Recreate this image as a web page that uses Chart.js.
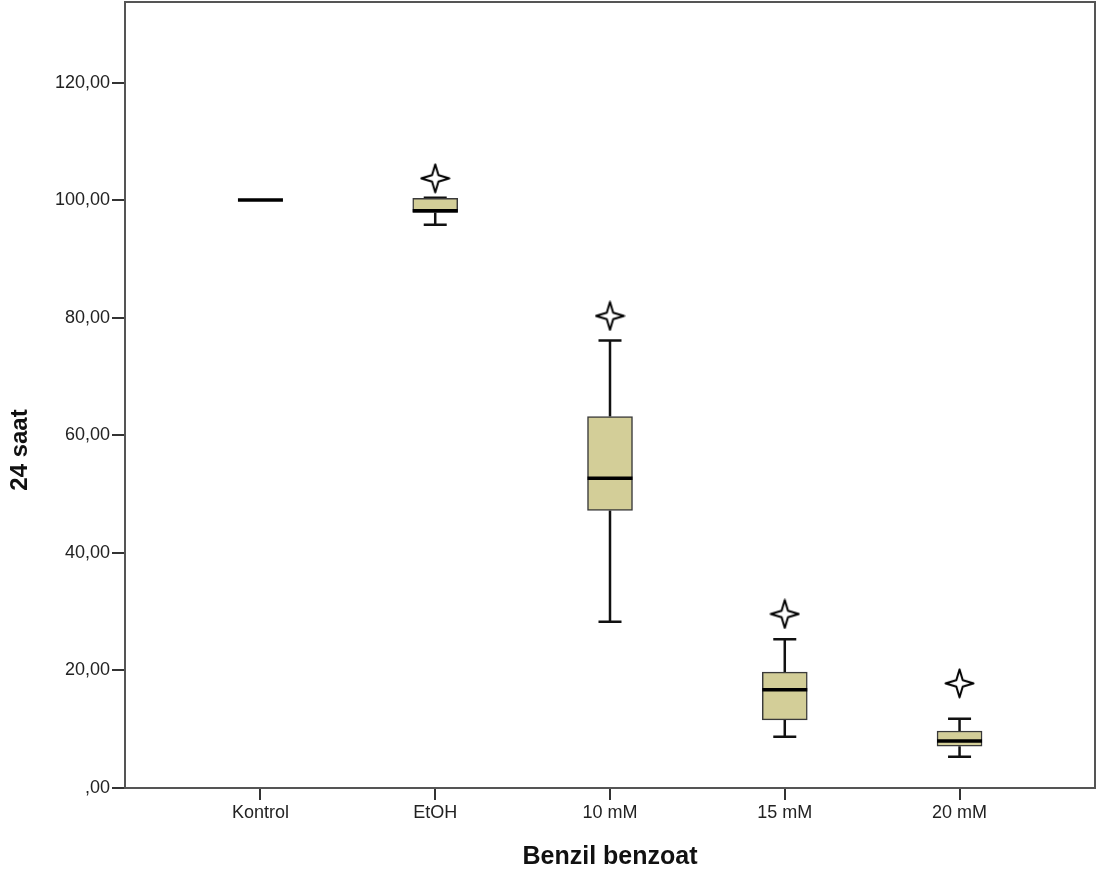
<!DOCTYPE html>
<html>
<head>
<meta charset="utf-8">
<script src="https://cdn.jsdelivr.net/npm/chart.js@4/dist/chart.umd.min.js"></script>
<style>
    html, body { margin: 0; padding: 0; background: #fff; }
    #wrap { width: 1097px; height: 877px; position: relative; }
</style>
</head>
<body>
<div id="wrap"><canvas id="boxChart"></canvas></div>
<script>
    "use strict";

    // Values
    const categories = ["Kontrol", "EtOH", "10 mM", "15 mM", "20 mM"];
    const whiskerLow = [100, 95.8, 28.3, 8.7, 5.3];
    const q1 = [100, 97.9, 47.2, 11.6, 7.1];
    const median = [100, 98.2, 52.7, 16.7, 8.0];
    const q3 = [100, 100.3, 63.2, 19.7, 9.7];
    const whiskerHigh = [100, 100.4, 76.1, 25.3, 11.8];
    const outliers = [null, 103.7, 80.3, 29.6, 17.8];
    const yTicks = [0, 20, 40, 60, 80, 100, 120];
    const yTitle = "24 saat";

    const FONT = "'Liberation Sans', Arial, sans-serif";
    const AXIS_COLOR = "#333";

    function makeStar(size) {
        const c = document.createElement("canvas");
        c.width = size;
        c.height = size;
        const ctx = c.getContext("2d");
        const m = size / 2;
        const r = m - 1.5;
        const k = 3.2;
        ctx.beginPath();
        ctx.moveTo(m, m - r);
        ctx.lineTo(m + k, m - k);
        ctx.lineTo(m + r, m);
        ctx.lineTo(m + k, m + k);
        ctx.lineTo(m, m + r);
        ctx.lineTo(m - k, m + k);
        ctx.lineTo(m - r, m);
        ctx.lineTo(m - k, m - k);
        ctx.closePath();
        ctx.fillStyle = "#fff";
        ctx.fill();
        ctx.lineWidth = 2;
        ctx.strokeStyle = "#000";
        ctx.lineJoin = "round";
        ctx.stroke();
        return c;
    }

    function noPad(scale) {
        scale.paddingTop = 0;
        scale.paddingBottom = 0;
        scale.paddingLeft = 0;
        scale.paddingRight = 0;
    }

    const boxPlugin = {
        id: "boxParts",
        beforeDatasetsDraw(chart) {
            const { ctx, scales: { x, y } } = chart;
            ctx.save();
            ctx.strokeStyle = "#111";
            ctx.lineWidth = 2.5;
            categories.forEach((_, i) => {
                if (whiskerHigh[i] === whiskerLow[i]) return;
                const px = x.getPixelForValue(i);
                const capHalf = 11.5;
                const lo = y.getPixelForValue(whiskerLow[i]);
                const hi = y.getPixelForValue(whiskerHigh[i]);
                ctx.beginPath();
                ctx.moveTo(px, lo);
                ctx.lineTo(px, y.getPixelForValue(q1[i]));
                ctx.moveTo(px, y.getPixelForValue(q3[i]));
                ctx.lineTo(px, hi);
                ctx.moveTo(px - capHalf, lo);
                ctx.lineTo(px + capHalf, lo);
                ctx.moveTo(px - capHalf, hi);
                ctx.lineTo(px + capHalf, hi);
                ctx.stroke();
            });
            ctx.restore();
        },
        afterDatasetsDraw(chart) {
            const { ctx, scales: { x, y } } = chart;
            ctx.save();
            ctx.strokeStyle = "#000";
            ctx.lineWidth = 3.5;
            median.forEach((v, i) => {
                const px = x.getPixelForValue(i);
                const py = y.getPixelForValue(v);
                ctx.beginPath();
                ctx.moveTo(px - 22.5, py);
                ctx.lineTo(px + 22.5, py);
                ctx.stroke();
            });
            ctx.restore();
        },
        afterDraw(chart) {
            const { ctx, chartArea: a } = chart;
            ctx.save();
            ctx.strokeStyle = "#555";
            ctx.lineWidth = 2;
            ctx.strokeRect(a.left, a.top, a.right - a.left, a.bottom - a.top);
            // y axis title, sits a bit below the middle like the SPSS output
            ctx.translate(20, a.top + (a.bottom - a.top) * 0.57);
            ctx.rotate(-Math.PI / 2);
            ctx.fillStyle = "#111";
            ctx.font = "bold 24px " + FONT;
            ctx.textAlign = "center";
            ctx.textBaseline = "middle";
            ctx.fillText(yTitle, 0, 0);
            ctx.restore();
        }
    };

    new Chart(document.getElementById("boxChart").getContext("2d"), {
        type: "bar",
        data: {
            datasets: [{
                type: "bar",
                data: categories.map((c, i) => ({ x: i, y: [q1[i], q3[i]] })),
                backgroundColor: "#d3ce98",
                borderColor: "#3a3a3a",
                borderWidth: 1.5,
                borderSkipped: false,
                barThickness: 45
            }, {
                type: "scatter",
                data: outliers.map((v, i) => (v === null ? null : { x: i, y: v })).filter(p => p),
                pointStyle: makeStar(31),
                pointRadius: 14,
                showLine: false
            }]
        },
        options: {
            responsive: true,
            maintainAspectRatio: false,
            animation: false,
            layout: { autoPadding: false, padding: { top: 2, right: 2, left: 0, bottom: 0 } },
            plugins: { legend: { display: false }, tooltip: { enabled: false } },
            scales: {
                x: {
                    type: "linear",
                    offset: false,
                    min: -0.775,
                    max: 4.775,
                    afterBuildTicks: scale => { scale.ticks = categories.map((c, i) => ({ value: i })); },
                    afterFit: scale => { scale.height = 89; noPad(scale); },
                    ticks: {
                        callback: value => categories[value],
                        color: "#222",
                        font: { family: FONT, size: 18 },
                        padding: 2,
                        maxRotation: 0,
                        autoSkip: false
                    },
                    grid: { display: true, offset: false, drawOnChartArea: false, drawTicks: true, tickLength: 12, color: AXIS_COLOR, lineWidth: 2 },
                    border: { display: true, color: AXIS_COLOR, width: 2 },
                    title: {
                        display: true,
                        text: "Benzil benzoat",
                        color: "#111",
                        font: { family: FONT, size: 25, weight: "bold" },
                        padding: { top: 0, bottom: 5 }
                    }
                },
                y: {
                    min: 0,
                    max: 133.7,
                    afterBuildTicks: scale => { scale.ticks = yTicks.map(v => ({ value: v })); },
                    afterFit: scale => { scale.width = 125; noPad(scale); },
                    ticks: {
                        callback: value => (value === 0 ? ",00" : value.toFixed(2).replace(".", ",")),
                        color: "#222",
                        font: { family: FONT, size: 18 },
                        padding: 2
                    },
                    grid: { display: true, drawOnChartArea: false, drawTicks: true, tickLength: 13, color: AXIS_COLOR, lineWidth: 2 },
                    border: { display: true, color: AXIS_COLOR, width: 2 },
                    title: { display: false }
                }
            }
        },
        plugins: [boxPlugin]
    });
</script>
</body>
</html>
